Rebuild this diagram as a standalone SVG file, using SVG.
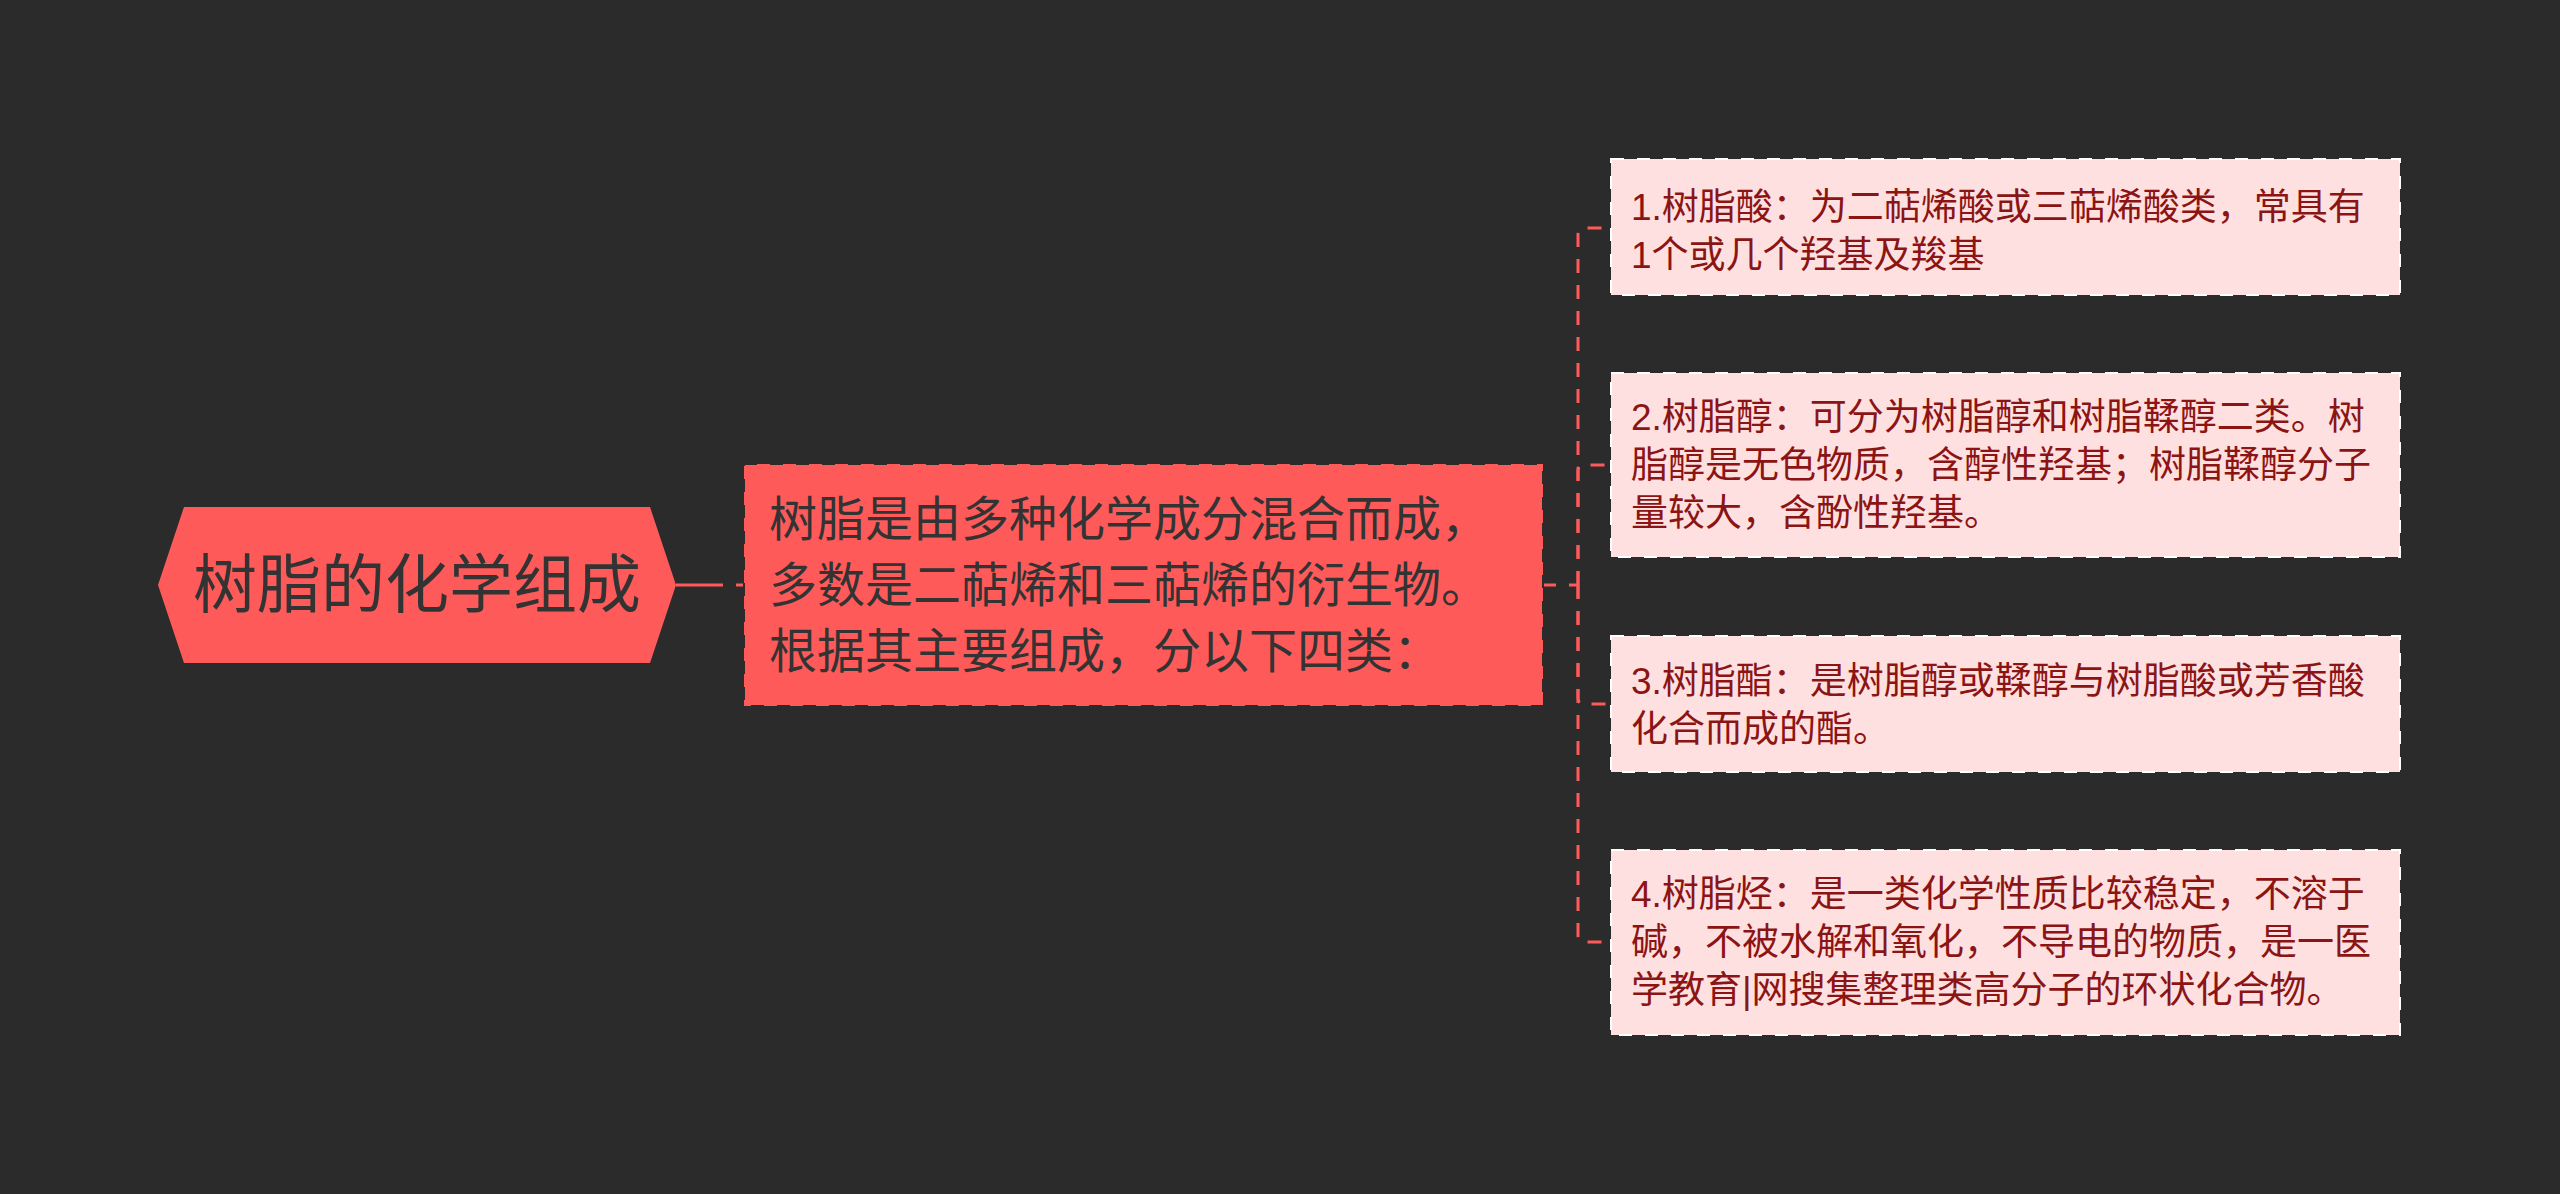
<svg xmlns="http://www.w3.org/2000/svg" width="2560" height="1194" viewBox="0 0 2560 1194">
<defs>
<style>
.bg{fill:#2b2b2b}
.root{fill:#ff5a5a}
.rootText{font-family:"Liberation Sans","Noto Sans CJK SC",sans-serif;font-size:64px;fill:#333333}
.mid{fill:#ff5a5a;stroke:#2b2b2b;stroke-width:2;stroke-dasharray:13 13}
.midText{font-family:"Liberation Sans","Noto Sans CJK SC",sans-serif;font-size:48px;fill:#333333}
.leaf{fill:#ffe0e0;stroke:#ffffff;stroke-width:2;stroke-dasharray:13 13}
.leafText{font-family:"Liberation Sans","Noto Sans CJK SC",sans-serif;font-size:37px;fill:#8b1414}
.conn{fill:none;stroke:#ff5a5a;stroke-width:3}
.dash{stroke-dasharray:14 12}
</style>
</defs>
<rect class="bg" x="0" y="0" width="2560" height="1194"/>

<g id="connectors">
  <path class="conn" d="M676,585 H745" stroke-width="4" stroke-dasharray="47 13"/>
  <path class="conn" d="M1543,585 H1578" stroke-dasharray="13 13"/>
  <path class="conn dash" d="M1578,585 V234 Q1578,228 1584,228 H1611"/>
  <path class="conn dash" d="M1578,585 V471 Q1578,465 1584,465 H1611"/>
  <path class="conn dash" d="M1578,585 V698 Q1578,704 1584,704 H1611"/>
  <path class="conn dash" d="M1578,585 V936 Q1578,942 1584,942 H1611"/>
</g>

<g id="root">
  <polygon class="root" points="158,585 184,507 650,507 676,585 650,663 184,663"/>
  <text class="rootText" x="417" y="607" text-anchor="middle">树脂的化学组成</text>
</g>

<g id="middle">
  <rect class="mid" x="744" y="464" width="799" height="242"/>
  <text class="midText" x="769" y="536">树脂是由多种化学成分混合而成，</text>
  <text class="midText" x="769" y="602">多数是二萜烯和三萜烯的衍生物。</text>
  <text class="midText" x="769" y="668">根据其主要组成，分以下四类：</text>
</g>

<g id="leaf1">
  <rect class="leaf" x="1611" y="159" width="789" height="136"/>
  <text class="leafText" x="1631" y="220">1.树脂酸：为二萜烯酸或三萜烯酸类，常具有</text>
  <text class="leafText" x="1631" y="268">1个或几个羟基及羧基</text>
</g>

<g id="leaf2">
  <rect class="leaf" x="1611" y="373" width="789" height="184"/>
  <text class="leafText" x="1631" y="430">2.树脂醇：可分为树脂醇和树脂鞣醇二类。树</text>
  <text class="leafText" x="1631" y="478">脂醇是无色物质，含醇性羟基；树脂鞣醇分子</text>
  <text class="leafText" x="1631" y="526">量较大，含酚性羟基。</text>
</g>

<g id="leaf3">
  <rect class="leaf" x="1611" y="636" width="789" height="136"/>
  <text class="leafText" x="1631" y="694">3.树脂酯：是树脂醇或鞣醇与树脂酸或芳香酸</text>
  <text class="leafText" x="1631" y="742">化合而成的酯。</text>
</g>

<g id="leaf4">
  <rect class="leaf" x="1611" y="850" width="789" height="185"/>
  <text class="leafText" x="1631" y="907">4.树脂烃：是一类化学性质比较稳定，不溶于</text>
  <text class="leafText" x="1631" y="955">碱，不被水解和氧化，不导电的物质，是一医</text>
  <text class="leafText" x="1631" y="1003">学教育|网搜集整理类高分子的环状化合物。</text>
</g>
</svg>
